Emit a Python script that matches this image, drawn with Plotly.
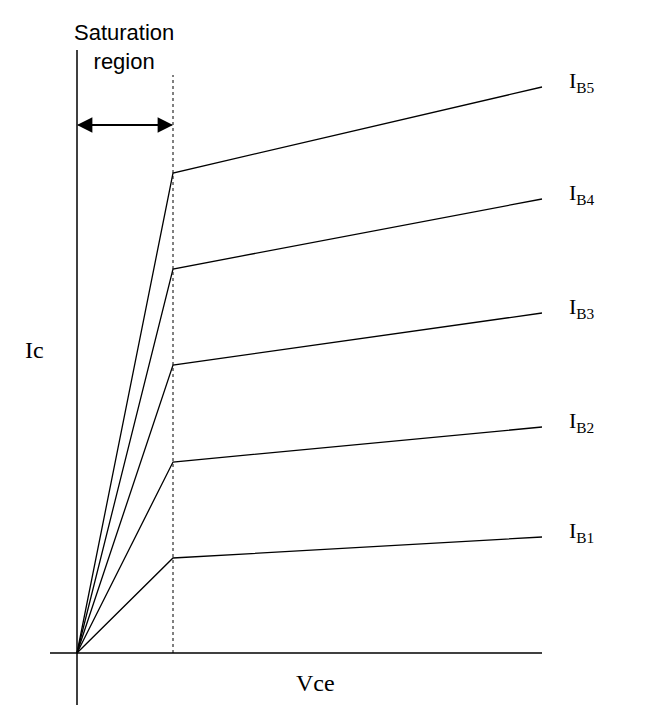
import plotly.graph_objects as go

labels = ["I<sub>B1</sub>", "I<sub>B2</sub>", "I<sub>B3</sub>", "I<sub>B4</sub>", "I<sub>B5</sub>"]
knee_v = 96
end_v = 465
knee_i = [95, 191, 288, 384, 480]
end_i = [116, 226, 340, 454, 566]

fig = go.Figure()
for lab, ki, ei in zip(labels, knee_i, end_i):
    fig.add_trace(go.Scatter(x=[0, knee_v, end_v], y=[0, ki, ei], mode="lines",
                             line=dict(color="black", width=1.3), showlegend=False, hoverinfo="skip"))
    fig.add_annotation(x=end_v + 25, y=ei + 5, text=lab, showarrow=False, xanchor="left",
                       font=dict(family="Liberation Serif", size=22, color="black"))

# axes
fig.add_shape(type="line", x0=0, x1=0, y0=-52, y1=603, line=dict(color="black", width=1.5))
fig.add_shape(type="line", x0=-27, x1=465, y0=0, y1=0, line=dict(color="black", width=1.5))
fig.add_shape(type="line", x0=knee_v, x1=knee_v, y0=0, y1=578, line=dict(color="black", width=1, dash="dot"))
# double arrow
for a, b in [(0, knee_v), (knee_v, 0)]:
    fig.add_annotation(x=a, y=528, ax=b, ay=528, xref="x", yref="y", axref="x", ayref="y",
                       showarrow=True, arrowhead=2, arrowsize=1.4, arrowwidth=2.2,
                       arrowcolor="black", text="")
fig.add_annotation(x=47, y=606, text="Saturation<br>region", showarrow=False,
                   font=dict(family="Liberation Sans", size=22, color="black"))
fig.add_annotation(x=-43, y=303, text="Ic", showarrow=False,
                   font=dict(family="Liberation Serif", size=24, color="black"))
fig.add_annotation(x=238, y=-30, text="Vce", showarrow=False,
                   font=dict(family="Liberation Serif", size=24, color="black"))

fig.update_layout(width=651, height=719, margin=dict(l=0, r=0, t=0, b=0),
                  plot_bgcolor="white", paper_bgcolor="white",
                  xaxis=dict(range=[-69, 582], visible=False),
                  yaxis=dict(range=[-74, 645], visible=False))
fig.write_html("out.html")
